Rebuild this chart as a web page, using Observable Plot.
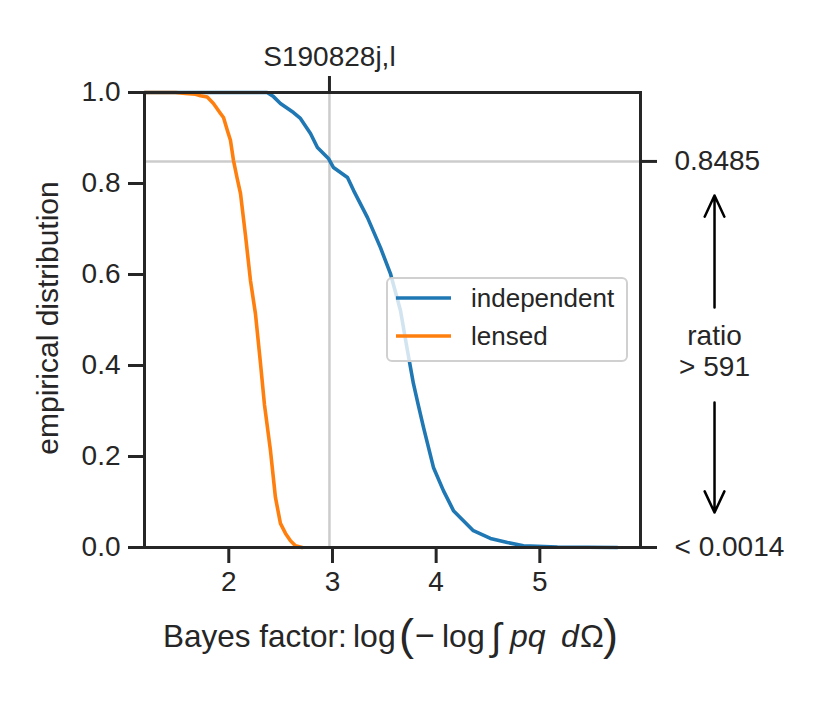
<!DOCTYPE html>
<html><head><meta charset="utf-8">
<script src="https://cdn.jsdelivr.net/npm/d3@7"></script>
<script src="https://cdn.jsdelivr.net/npm/@observablehq/plot@0.6"></script>
<style>body{margin:0;background:#fff}</style>
</head><body><div id="chart"></div>
<script>
// ---- data ----
const independentX = [1.187, 2.370, 2.431, 2.498, 2.624, 2.691, 2.788, 2.855, 2.961, 3.010, 3.145, 3.203, 3.338, 3.463, 3.559, 3.656, 3.723, 3.781, 3.829, 3.878, 3.974, 4.070, 4.167, 4.263, 4.359, 4.523, 4.687, 4.842, 5.170, 5.748];
const independentY = [1.000, 1.000, 0.991, 0.976, 0.956, 0.943, 0.910, 0.879, 0.855, 0.835, 0.813, 0.785, 0.725, 0.659, 0.602, 0.521, 0.433, 0.360, 0.312, 0.264, 0.176, 0.125, 0.081, 0.059, 0.037, 0.020, 0.011, 0.004, 0.001, 0.000];
const lensedX = [1.187, 1.486, 1.582, 1.679, 1.727, 1.792, 1.852, 1.920, 1.949, 1.987, 2.016, 2.045, 2.081, 2.113, 2.161, 2.209, 2.257, 2.306, 2.344, 2.402, 2.450, 2.498, 2.547, 2.595, 2.643, 2.708];
const lensedY = [1.000, 1.000, 0.998, 0.996, 0.993, 0.990, 0.976, 0.954, 0.945, 0.916, 0.895, 0.851, 0.811, 0.778, 0.686, 0.587, 0.514, 0.404, 0.314, 0.213, 0.110, 0.053, 0.031, 0.015, 0.004, 0.000];
const seriesNames = ["independent", "lensed"];
const seriesColors = ["#1f77b4", "#ff7f0e"];
const xTicks = [2, 3, 4, 5];
const yTicks = [0, 0.2, 0.4, 0.6, 0.8, 1.0];
const xDomain = [1.187, 5.971];
const eventName = "S190828j,l";
const eventX = 2.971;
const threshold = 0.8485;
const rightTickValues = [0, 0.8485];
const rightTickLabels = ["< 0.0014", "0.8485"];
const ratioLabels = ["ratio", "> 591"];
const ratioLabelY = [0.464, 0.396];
const annotX = 6.685;
const arrowFrom = [0.5275, 0.3187];
const arrowTo = [0.7736, 0.0769];

// ---- build tables ----
const lineData = [
  ...independentX.map((x, i) => ({x, y: independentY[i], s: seriesNames[0]})),
  ...lensedX.map((x, i) => ({x, y: lensedY[i], s: seriesNames[1]}))
];
const arrows = arrowFrom.map((y1, i) => ({x: annotX, y1, y2: arrowTo[i]}));
const ratioText = ratioLabels.map((t, i) => ({x: annotX, y: ratioLabelY[i], t}));
const ink = "#262626";
const font = "Liberation Sans, Arial, Helvetica, sans-serif";

const plot = Plot.plot({
  width: 830, height: 712,
  marginLeft: 144, marginRight: 190, marginTop: 92, marginBottom: 165,
  style: {fontFamily: font, color: ink, background: "#fff", overflow: "visible"},
  x: {domain: xDomain},
  y: {domain: [0, 1]},
  color: {domain: seriesNames, range: seriesColors},
  marks: [
    Plot.ruleX([eventX], {stroke: "#cccccc", strokeWidth: 2.5}),
    Plot.ruleY([threshold], {stroke: "#cccccc", strokeWidth: 2.5}),
    Plot.line(lineData, {x: "x", y: "y", z: "s", stroke: "s", strokeWidth: 3.6}),
    Plot.axisX({ticks: xTicks, tickSize: 16, tickPadding: 8, fontSize: 28, strokeWidth: 3, stroke: ink, label: null, tickFormat: d => String(d)}),
    Plot.axisX({anchor: "top", ticks: [eventX], tickSize: 17, tickPadding: 10, fontSize: 28, strokeWidth: 3, stroke: ink, label: null, tickFormat: () => eventName}),
    Plot.axisY({ticks: yTicks, tickSize: 16, tickPadding: 8, fontSize: 28, strokeWidth: 3, stroke: ink, label: null, tickFormat: d3.format(".1f")}),
    Plot.axisY({anchor: "right", ticks: rightTickValues, tickSize: 16, tickPadding: 18, fontSize: 28, strokeWidth: 3, stroke: ink, label: null, tickFormat: d => rightTickLabels[rightTickValues.indexOf(d)]}),
    Plot.frame({stroke: ink, strokeWidth: 3}),
    Plot.arrow(arrows, {x: "x", y1: "y1", y2: "y2", stroke: "#000", strokeWidth: 2.5, headLength: 14, headAngle: 50}),
    Plot.text(ratioText, {x: "x", y: "y", text: "t", fontSize: 28, fill: ink, textAnchor: "middle", lineAnchor: "middle"})
  ]
});

const svg = d3.select(plot);

// legend
const lg = svg.append("g");
lg.append("rect").attr("x", 387).attr("y", 278).attr("width", 240).attr("height", 83)
  .attr("rx", 5).attr("fill", "#fff").attr("fill-opacity", 0.8)
  .attr("stroke", "#d0d0d0").attr("stroke-width", 2);
seriesNames.forEach((name, i) => {
  const cy = 298 + i * 38;
  lg.append("line").attr("x1", 396).attr("x2", 451).attr("y1", cy).attr("y2", cy)
    .attr("stroke", seriesColors[i]).attr("stroke-width", 3.6);
  lg.append("text").attr("x", 471).attr("y", cy + 9).attr("font-size", 26)
    .attr("text-anchor", "start")
    .attr("font-family", font).attr("fill", ink).text(name);
});

// y label
svg.append("text").attr("transform", "translate(58,318) rotate(-90)")
  .attr("text-anchor", "middle").attr("font-size", 30).attr("font-family", font)
  .attr("fill", ink).text("empirical distribution");

// x label with math
const xl = svg.append("g").attr("fill", ink).attr("text-anchor", "start").attr("font-family", font);
const base = 647;
const pieces = [
  {t: "Bayes factor:", x: 163, s: 31.5},
  {t: "log", x: 353, s: 32},
  {t: "(", x: 399, s: 45, dy: 3},
  {t: "\u2212", x: 415, s: 34},
  {t: "log", x: 442, s: 32},
  {t: "\u222B", x: 491, s: 38, dy: 3},
  {t: "pq", x: 510, s: 32, it: true},
  {t: "d", x: 561, s: 32, it: true},
  {t: "\u03A9", x: 580, s: 32},
  {t: ")", x: 603, s: 45, dy: 3}
];
pieces.forEach(p => {
  xl.append("text").attr("x", p.x).attr("y", base + (p.dy || 0))
    .attr("font-size", p.s)
    .attr("font-style", p.it ? "italic" : "normal")
    .text(p.t);
});

document.getElementById("chart").appendChild(plot);
</script>
</body></html>
